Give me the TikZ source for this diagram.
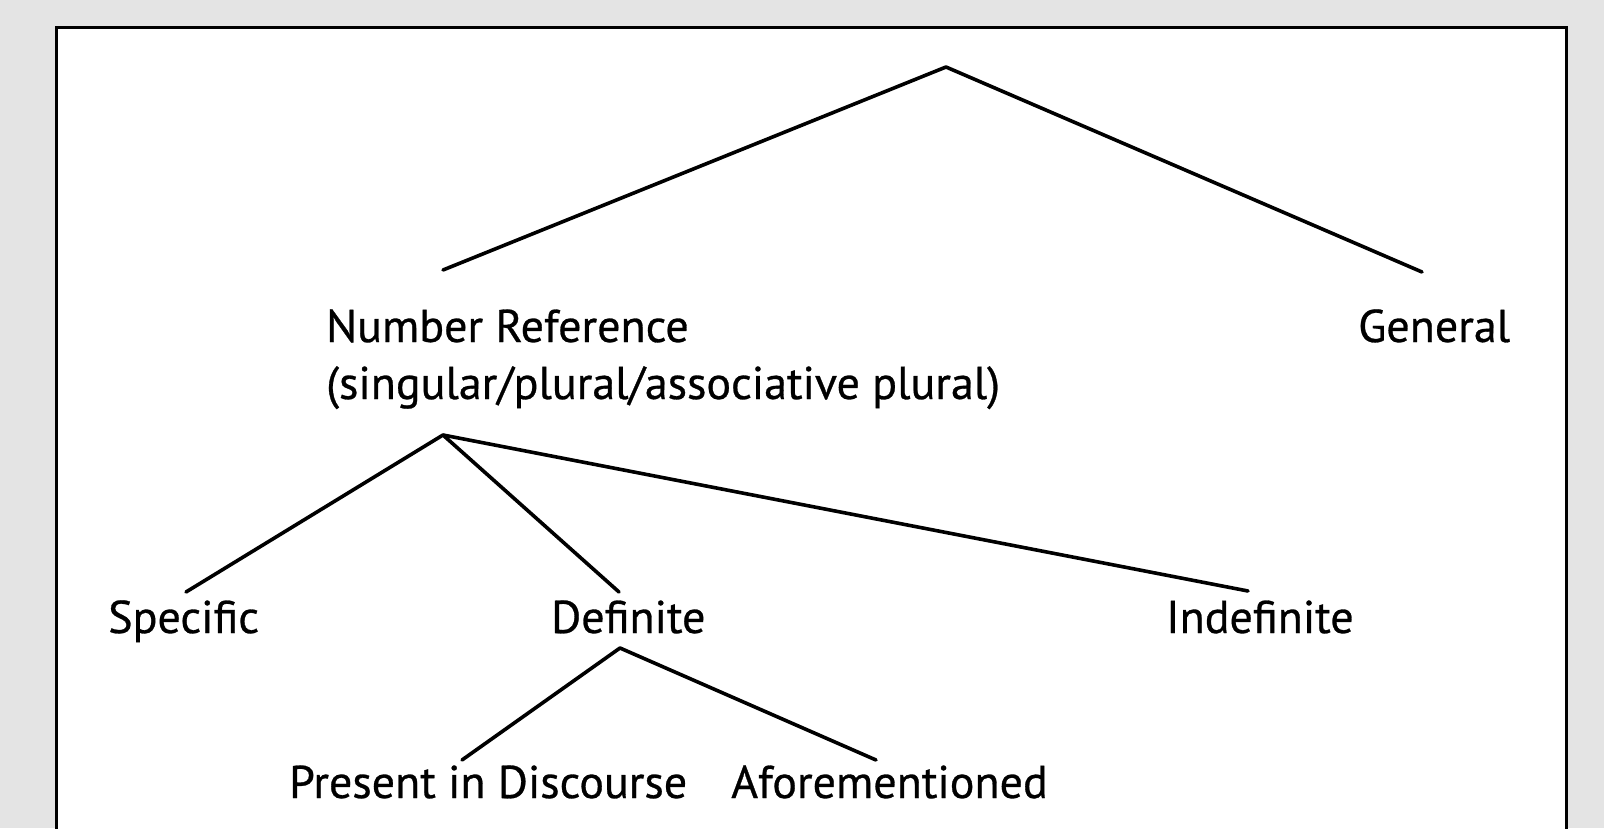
\documentclass[tikz,border=0pt]{standalone}
\usepackage{fontspec}
\setmainfont{PT Sans}
\newfontfamily\lblfont{PT Sans}[RawFeature={embolden=0.6}]
\definecolor{bggray}{HTML}{E4E4E4}
\begin{document}
\begin{tikzpicture}[x=1pt,y=-1pt,
  conn/.style={line width=3.6pt, line cap=round, line join=round},
  lbl/.style={inner sep=0pt, anchor=base west, font=\lblfont\fontsize{46}{57}\selectfont}]
\useasboundingbox (0,0) rectangle (1604,828);
\fill[bggray] (0,0) rectangle (1604,828);
\draw[line width=3pt, fill=white] (56,27) rectangle (1566,850);
% labels
\node[lbl] (nr) at (326,342) {Number Reference};
\node[lbl] (nr2) at (326,399) {(singular/plural/associative plural)};
\node[lbl] (gen) at (1358,342) {General};
\node[lbl] (spec) at (108,633) {Specific};
\node[lbl] (def) at (551,633) {Definite};
\node[lbl] (indef) at (1166,633) {Indefinite};
\node[lbl] (pid) at (289,798) {Present in Discourse};
\node[lbl] (afore) at (731,798) {Aforementioned};
% connector end points
\coordinate (root) at (946,67);
\coordinate (nrTop) at (443,270);
\coordinate (genTop) at (1422,272);
\coordinate (nrBot) at (443,435);
\coordinate (specTop) at (186,592);
\coordinate (defTop) at (619,592);
\coordinate (indefTop) at (1248,591);
\coordinate (defBot) at (620,648);
\coordinate (pidTop) at (462,760);
\coordinate (aforeTop) at (876,760);
% connectors
\draw[conn] (nrTop) -- (root) -- (genTop);
\draw[conn] (specTop) -- (nrBot) -- (defTop);
\draw[conn] (nrBot) -- (indefTop);
\draw[conn] (pidTop) -- (defBot) -- (aforeTop);
\end{tikzpicture}
\end{document}
